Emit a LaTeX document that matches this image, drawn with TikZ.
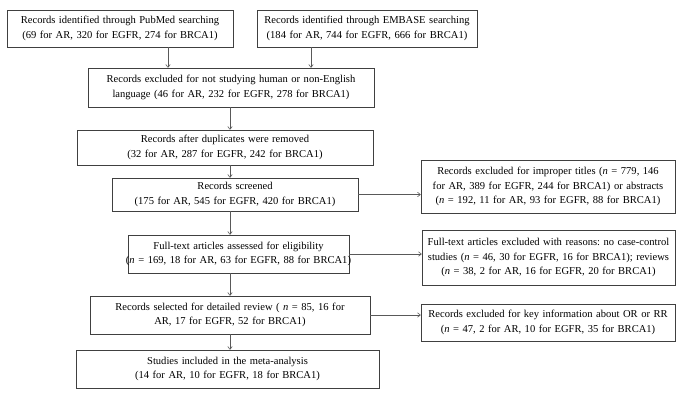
\documentclass[tikz,border=0pt]{standalone}
\usepackage{fontspec}
\setmainfont{Liberation Serif}
\usetikzlibrary{arrows.meta}
\frenchspacing
\begin{document}
\begin{tikzpicture}[x=1bp,y=-1bp,
  box/.style={draw=black!75, line width=0.6pt, fill=white, inner sep=0pt, align=center,
    font=\fontsize{10.6}{14.5}\selectfont},
  arr/.style={draw=black!65, line width=0.6pt, -{To[length=3.5pt,width=5pt]}}]
\useasboundingbox (0,0) rectangle (683,404);
\newcommand{\bx}[6]{\node[box, minimum width=#4bp, minimum height=#5bp, text width=#4bp] (#1) at (#2,#3) {#6};}
\newcommand{\fitline}[1]{\makebox[\linewidth][c]{#1}}
\bx{B1}{120}{28.5}{226}{37}{Records identified through PubMed searching\\(69 for AR, 320 for EGFR, 274 for BRCA1)}
\bx{B2}{367}{28.5}{220}{37}{Records identified through EMBASE searching\\(184 for AR, 744 for EGFR, 666 for BRCA1)}
\bx{B3}{231}{87.5}{286}{39}{Records excluded for not studying human or non-English\\language (46 for AR, 232 for EGFR, 278 for BRCA1)}
\bx{B4}{225}{147.5}{296}{35}{Records after duplicates were removed\\(32 for AR, 287 for EGFR, 242 for BRCA1)}
\bx{B5}{235}{194.5}{246}{33}{Records screened\\(175 for AR, 545 for EGFR, 420 for BRCA1)}
\bx{B6}{238.5}{254}{221}{38}{Full-text articles assessed for eligibility\\\fitline{(\textit{n} = 169, 18 for AR, 63 for EGFR, 88 for BRCA1)}}
\bx{B7}{230}{315}{280}{38}{Records selected for detailed review ( \textit{n} = 85, 16 for\\AR, 17 for EGFR, 52 for BRCA1)}
\bx{B8}{227.5}{369}{303}{38}{Studies included in the meta-analysis\\(14 for AR, 10 for EGFR, 18 for BRCA1)}
\bx{R1}{548}{186.5}{254}{53}{\fitline{Records excluded for improper titles (\textit{n} = 779, 146}\\\fitline{for AR, 389 for EGFR, 244 for BRCA1) or abstracts}\\\fitline{(\textit{n} = 192, 11 for AR, 93 for EGFR, 88 for BRCA1)}}
\bx{R2}{548.5}{257.5}{253}{55}{\fitline{Full-text articles excluded with reasons: no case-control}\\\fitline{studies (\textit{n} = 46, 30 for EGFR, 16 for BRCA1); reviews}\\\fitline{(\textit{n} = 38, 2 for AR, 16 for EGFR, 20 for BRCA1)}}
\bx{R3}{548}{322.5}{254}{37}{\fitline{Records excluded for key information about OR or RR}\\\fitline{(\textit{n} = 47, 2 for AR, 10 for EGFR, 35 for BRCA1)}}
\coordinate (a1) at (168,0);
\coordinate (a2) at (311,0);
\coordinate (mx) at (230,0);
\draw[arr] (B1.south -| a1) -- (B3.north -| a1);
\draw[arr] (B2.south -| a2) -- (B3.north -| a2);
\draw[arr] (B3.south -| mx) -- (B4.north -| mx);
\draw[arr] (B4.south -| mx) -- (B5.north -| mx);
\draw[arr] (B5.south -| mx) -- (B6.north -| mx);
\draw[arr] (B6.south -| mx) -- (B7.north -| mx);
\draw[arr] (B7.south -| mx) -- (B8.north -| mx);
\draw[arr] (B5.east) -- (R1.west |- B5.east);
\draw[arr] (B6.east) -- (R2.west |- B6.east);
\draw[arr] (B7.east) -- (R3.west |- B7.east);
\end{tikzpicture}
\end{document}
